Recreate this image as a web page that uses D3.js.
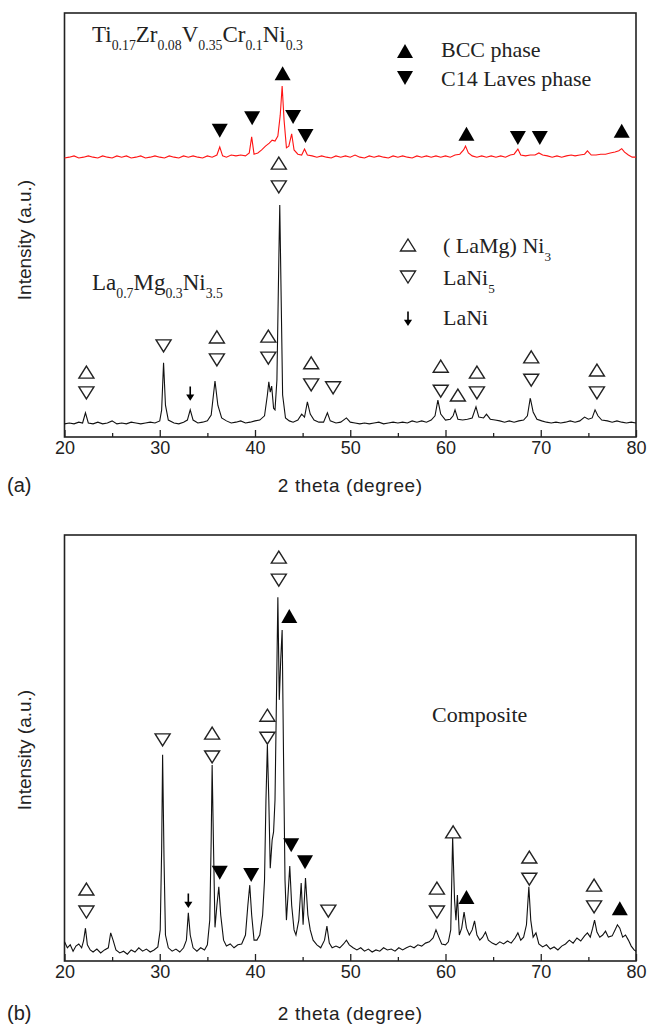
<!DOCTYPE html>
<html>
<head>
<meta charset="utf-8">
<script src="https://cdn.jsdelivr.net/npm/d3@7"></script>
<style>
  body { margin: 0; background: #fff; }
  .tick text { font-family: "Liberation Sans", Arial, sans-serif; font-size: 18px; fill: #222; }
  .serif { font-family: "Liberation Serif", "Times New Roman", serif; fill: #222; }
  .sans { font-family: "Liberation Sans", Arial, sans-serif; fill: #222; }
</style>
</head>
<body>
<svg id="chart"></svg>
<script>
// x ticks (2 theta)
var majorTicks = [20, 30, 40, 50, 60, 70, 80];
var minorTicks = [25, 35, 45, 55, 65, 75];

// panel (a): La0.7Mg0.3Ni3.5 pattern, [2theta, intensity a.u.]
var aAlloy = [
  [20.0,3.1],[20.5,3.3],[21.0,3.1],[21.5,3.5],[21.9,3.3],[22.2,5.7],[22.5,3.3],[23.0,3.1],[23.5,3.5],[24.0,3.1],
  [24.5,3.3],[25.0,3.8],[25.5,3.1],[26.0,3.3],[26.5,3.1],[27.0,3.5],[27.5,3.3],[28.0,3.1],[28.5,3.3],[29.0,3.5],
  [29.5,3.3],[30.0,3.8],[30.2,6.4],[30.4,17.5],[30.6,7.5],[30.9,4.0],[31.5,3.3],[32.0,3.1],[32.5,3.5],[32.9,4.0],
  [33.2,6.4],[33.5,4.0],[34.0,3.3],[34.5,3.5],[35.0,3.8],[35.4,5.2],[35.8,13.2],[36.1,7.5],[36.5,4.5],[37.0,3.8],
  [37.5,3.3],[38.0,3.5],[38.5,3.8],[39.0,3.3],[39.5,3.5],[40.0,3.8],[40.5,4.0],[41.0,5.0],[41.3,9.9],[41.45,13.0],
  [41.6,10.6],[41.75,12.0],[41.95,6.8],[42.1,6.4],[42.3,13.4],[42.5,41.7],[42.6,54.7],[42.75,32.3],[42.9,9.9],[43.2,4.5],
  [43.6,3.8],[44.0,3.5],[44.5,4.0],[44.9,5.4],[45.2,4.7],[45.5,8.3],[45.8,5.4],[46.2,4.0],[46.7,3.5],[47.2,3.5],
  [47.6,5.7],[47.9,3.8],[48.5,3.3],[49.0,3.5],[49.6,4.5],[50.0,3.5],[50.5,3.3],[51.0,3.1],[51.5,3.3],[52.0,3.1],
  [52.5,3.3],[53.0,3.5],[53.5,3.1],[54.0,3.3],[54.5,3.5],[55.0,3.3],[55.5,3.5],[56.0,3.3],[56.5,3.8],[57.0,3.5],
  [57.5,3.8],[58.0,3.5],[58.5,4.0],[58.9,5.0],[59.2,8.7],[59.5,5.4],[60.0,4.0],[60.5,4.2],[60.8,5.0],[61.0,6.4],
  [61.3,4.2],[61.8,4.0],[62.3,4.2],[62.8,4.5],[63.2,7.1],[63.5,4.7],[64.0,4.5],[64.3,5.4],[64.7,4.2],[65.2,4.0],
  [65.7,3.8],[66.2,3.5],[66.7,3.8],[67.2,3.5],[67.7,3.8],[68.2,4.0],[68.6,5.0],[68.9,9.2],[69.2,5.9],[69.6,4.2],
  [70.1,3.8],[70.6,3.5],[71.1,3.3],[71.6,3.5],[72.1,3.3],[72.6,3.5],[73.1,3.8],[73.6,3.5],[74.1,3.8],[74.6,4.7],
  [75.0,4.2],[75.4,4.5],[75.7,6.4],[76.0,5.0],[76.4,4.0],[77.0,3.8],[77.5,3.5],[78.0,3.8],[78.5,3.5],[79.0,3.3],
  [79.5,3.5],[80.0,3.3]
];

// panel (a): Ti0.17Zr0.08V0.35Cr0.1Ni0.3 pattern (offset)
var aBcc = [
  [20.0,65.8],[20.5,66.0],[21.0,66.3],[21.5,65.8],[22.0,66.0],[22.5,66.3],[23.0,66.0],[23.5,65.8],[24.0,66.3],[24.5,66.0],
  [25.0,65.8],[25.5,66.3],[26.0,66.0],[26.5,66.3],[27.0,65.8],[27.5,66.0],[28.0,66.3],[28.5,65.8],[29.0,66.0],[29.5,66.3],
  [30.0,66.0],[30.5,65.8],[31.0,66.3],[31.5,66.0],[32.0,65.8],[32.5,66.3],[33.0,66.0],[33.5,66.3],[34.0,66.0],[34.5,65.8],
  [35.0,66.3],[35.5,66.0],[36.0,66.5],[36.3,68.4],[36.6,66.3],[37.0,66.0],[37.5,66.5],[38.0,66.3],[38.5,66.5],[39.0,66.3],
  [39.4,67.0],[39.65,70.8],[39.9,66.7],[40.3,67.0],[40.7,67.7],[41.1,68.6],[41.5,69.3],[41.8,70.0],[42.1,69.8],[42.4,71.0],
  [42.65,75.9],[42.85,82.8],[43.05,74.8],[43.3,68.2],[43.55,68.6],[43.85,71.5],[44.1,67.7],[44.5,66.7],[44.9,66.5],[45.2,67.9],
  [45.5,66.5],[46.0,66.3],[46.5,66.0],[47.0,66.3],[47.5,66.0],[48.0,65.8],[48.5,66.3],[49.0,66.0],[49.5,66.3],[50.0,66.0],
  [50.5,66.5],[51.0,66.0],[51.5,65.8],[52.0,66.3],[52.5,66.0],[53.0,66.3],[53.5,66.0],[54.0,65.8],[54.5,66.3],[55.0,66.0],
  [55.5,66.3],[56.0,66.0],[56.5,65.8],[57.0,66.3],[57.5,66.0],[58.0,66.3],[58.5,66.0],[59.0,66.3],[59.5,66.0],[60.0,66.3],
  [60.5,66.0],[61.0,66.5],[61.5,66.7],[61.9,67.7],[62.1,68.6],[62.4,67.0],[62.8,66.3],[63.3,66.0],[63.8,66.3],[64.3,66.0],
  [64.8,66.3],[65.3,66.0],[65.8,66.3],[66.3,66.0],[66.8,66.5],[67.2,66.7],[67.6,67.9],[67.9,66.5],[68.4,66.3],[68.9,66.5],
  [69.4,66.5],[69.8,67.0],[70.2,66.5],[70.7,66.3],[71.2,66.0],[71.7,66.3],[72.2,66.0],[72.7,66.3],[73.2,66.5],[73.6,66.3],
  [74.1,66.5],[74.6,66.7],[74.9,67.5],[75.3,66.5],[75.8,66.5],[76.3,66.7],[76.8,66.7],[77.3,67.0],[77.8,67.2],[78.2,67.5],
  [78.5,68.0],[78.8,67.2],[79.2,66.5],[79.6,66.0],[80.0,66.0]
];

// panel (b): composite pattern
var bComposite = [
  [20.0,4.5],[20.3,3.1],[20.6,3.8],[20.9,2.3],[21.2,3.5],[21.5,4.0],[21.8,3.1],[22.0,4.7],[22.2,7.7],[22.4,3.8],
  [22.7,2.6],[23.0,2.1],[23.4,2.8],[23.8,1.9],[24.2,2.6],[24.6,3.1],[24.85,6.6],[25.1,4.9],[25.4,2.6],[25.8,1.9],
  [26.2,2.3],[26.6,1.6],[27.0,2.6],[27.4,2.1],[27.8,3.1],[28.2,2.3],[28.6,2.8],[29.0,2.1],[29.4,2.6],[29.8,3.3],
  [30.05,7.3],[30.2,26.1],[30.3,48.4],[30.45,23.7],[30.6,6.1],[30.9,3.1],[31.3,2.3],[31.7,2.8],[32.1,2.1],[32.5,3.1],
  [32.8,4.9],[33.0,11.3],[33.2,6.1],[33.5,3.1],[33.9,2.3],[34.3,3.1],[34.7,2.6],[35.0,3.8],[35.25,9.6],[35.4,28.4],
  [35.5,46.0],[35.65,26.1],[35.8,7.9],[36.0,13.1],[36.2,17.4],[36.4,10.8],[36.7,4.9],[37.0,3.5],[37.4,4.0],[37.8,3.1],
  [38.2,3.8],[38.6,4.0],[39.0,6.1],[39.25,13.1],[39.45,17.8],[39.65,10.8],[39.9,4.9],[40.2,4.9],[40.5,6.1],[40.8,10.8],
  [41.0,19.0],[41.15,37.8],[41.3,50.7],[41.45,37.8],[41.6,21.8],[41.8,28.4],[41.95,30.3],[42.1,37.8],[42.25,61.3],[42.4,85.4],
  [42.55,61.3],[42.7,70.7],[42.85,77.7],[43.0,47.2],[43.15,19.0],[43.3,9.6],[43.5,16.7],[43.65,22.3],[43.85,13.1],[44.1,7.3],
  [44.3,6.1],[44.6,9.6],[44.85,18.3],[45.05,8.5],[45.3,19.5],[45.55,10.8],[45.8,7.3],[46.1,4.9],[46.5,3.8],[46.9,3.1],
  [47.3,4.9],[47.55,8.2],[47.8,4.2],[48.1,3.1],[48.5,3.5],[48.9,3.1],[49.3,4.0],[49.6,4.9],[49.9,3.8],[50.3,3.1],
  [50.7,2.6],[51.1,3.1],[51.5,2.3],[51.9,2.8],[52.3,2.1],[52.7,2.6],[53.1,2.3],[53.5,3.1],[53.9,2.6],[54.3,2.8],
  [54.7,2.3],[55.1,3.1],[55.5,2.6],[55.9,3.1],[56.3,3.5],[56.7,3.1],[57.1,3.8],[57.5,3.5],[57.9,4.2],[58.3,4.5],
  [58.7,5.4],[59.0,7.3],[59.3,5.6],[59.6,4.0],[60.0,3.8],[60.3,4.5],[60.55,7.3],[60.75,29.1],[60.95,14.3],[61.1,9.6],
  [61.25,15.5],[61.45,6.1],[61.7,7.7],[61.95,11.5],[62.2,7.7],[62.5,6.1],[62.8,7.3],[63.05,9.4],[63.3,6.1],[63.6,4.9],
  [63.9,5.6],[64.2,6.8],[64.5,4.9],[64.9,4.2],[65.3,3.8],[65.7,4.5],[66.1,4.0],[66.5,4.7],[66.9,4.2],[67.3,5.4],
  [67.6,6.6],[67.9,4.9],[68.2,5.6],[68.5,8.5],[68.75,17.4],[68.95,9.6],[69.2,5.6],[69.5,6.6],[69.8,4.0],[70.2,3.3],
  [70.6,3.8],[71.0,2.8],[71.4,3.3],[71.8,2.6],[72.2,3.5],[72.6,4.0],[73.0,4.9],[73.4,4.2],[73.8,5.4],[74.2,4.7],
  [74.6,5.9],[74.9,6.6],[75.2,5.6],[75.45,7.7],[75.65,9.6],[75.9,6.8],[76.2,5.6],[76.5,6.1],[76.8,7.0],[77.1,5.6],
  [77.5,5.9],[77.8,7.3],[78.05,8.5],[78.3,7.7],[78.6,5.6],[78.9,6.1],[79.2,4.9],[79.5,3.5],[79.8,2.6],[80.0,2.3]
];

// phase markers [2theta, intensity]
var aBccMarks = [[42.9,85.8],[62.2,71.5],[78.5,72.2]];
var aC14Marks = [[36.3,72.2],[39.7,75.2],[44.0,75.5],[45.3,71.0],[67.6,70.5],[69.9,70.5]];
var aLaMgNi3Marks = [[22.3,15.3],[36.0,23.6],[41.4,23.8],[42.5,64.6],[45.9,17.5],[59.5,16.7],[61.3,9.9],[63.3,15.3],[69.0,18.9],[75.9,15.8]];
var aLaNi5Marks = [[22.3,10.4],[30.4,21.5],[36.0,18.2],[41.4,18.6],[42.5,59.0],[45.9,12.3],[48.2,11.6],[59.5,10.8],[63.3,10.4],[69.0,13.4],[75.9,10.4]];
var aLaNiMarks = [[33.2,10.4]];

var bBccMarks = [[43.6,81.0],[62.2,15.0],[78.3,12.4]];
var bC14Marks = [[36.3,20.7],[39.6,20.2],[43.8,27.2],[45.25,23.2]];
var bLaMgNi3Marks = [[22.3,16.9],[35.5,53.5],[41.3,57.7],[42.5,94.8],[59.1,17.1],[60.8,30.3],[68.8,24.4],[75.6,17.8]];
var bLaNi5Marks = [[22.3,11.5],[30.3,51.9],[35.5,47.9],[41.3,52.3],[42.5,89.4],[47.7,11.7],[59.1,11.5],[68.8,19.2],[75.6,12.7]];
var bLaNiMarks = [[33.0,14.3]];

var screen = { width: 649, height: 1024 };
var ink = "#222";

var svg = d3.select("#chart")
            .attr("width", screen.width)
            .attr("height", screen.height);

var xScale = d3.scaleLinear().domain([20, 80]).range([64.5, 636]);

// triangle path centred on 0,0
var tri = function(up, w, h) {
  if (up) return "M0," + (-h/2) + "L" + (w/2) + "," + (h/2) + "L" + (-w/2) + "," + (h/2) + "Z";
  return "M0," + (h/2) + "L" + (w/2) + "," + (-h/2) + "L" + (-w/2) + "," + (-h/2) + "Z";
}

var arrowPath = "M0,-6.5L0,4 M-2.6,2.5L0,6.5L2.6,2.5Z";

var styleMark = function(sel, kind) {
  if (kind == "bcc") sel.attr("d", tri(true, 16, 14)).attr("fill", "#000");
  if (kind == "c14") sel.attr("d", tri(false, 16, 14)).attr("fill", "#000");
  if (kind == "up") sel.attr("d", tri(true, 15, 12)).attr("fill", "#fff").attr("stroke", ink).attr("stroke-width", 1.4);
  if (kind == "down") sel.attr("d", tri(false, 15, 12)).attr("fill", "#fff").attr("stroke", ink).attr("stroke-width", 1.4);
  if (kind == "arrow") sel.attr("d", arrowPath).attr("fill", "#000").attr("stroke", "#000").attr("stroke-width", 1.6);
}

var drawMarks = function(g, data, yScale, kind) {
  var sel = g.selectAll(null).data(data).enter().append("path")
             .attr("transform", function(d) {return "translate(" + xScale(d[0]) + "," + yScale(d[1]) + ")";});
  styleMark(sel, kind);
}

var drawPanel = function(top, bottom, label, labelY, yLabelY) {
  var yScale = d3.scaleLinear().domain([0, 100]).range([bottom, top]);
  var g = svg.append("g");

  //minor ticks
  g.append("g")
   .attr("transform", "translate(0," + bottom + ")")
   .call(d3.axisBottom(xScale).tickValues(minorTicks).tickSizeInner(-4).tickSizeOuter(0).tickFormat(""))
   .call(function(a) {a.select(".domain").remove(); a.selectAll("line").attr("stroke", ink).attr("stroke-width", 1.3);});

  //major ticks
  g.append("g")
   .attr("transform", "translate(0," + bottom + ")")
   .call(d3.axisBottom(xScale).tickValues(majorTicks).tickSizeInner(-7).tickSizeOuter(0).tickPadding(4))
   .call(function(a) {a.select(".domain").remove(); a.selectAll("line").attr("stroke", ink).attr("stroke-width", 1.3);});

  //frame
  g.append("rect")
   .attr("x", xScale(20)).attr("y", top)
   .attr("width", xScale(80) - xScale(20)).attr("height", bottom - top)
   .attr("fill", "none").attr("stroke", ink).attr("stroke-width", 1.6);

  g.append("text").attr("class", "sans")
   .attr("x", (xScale(20) + xScale(80)) / 2).attr("y", labelY)
   .attr("text-anchor", "middle").style("font-size", "19px").style("letter-spacing", "0.6px")
   .text("2 theta (degree)");

  g.append("text").attr("class", "sans")
   .attr("x", 7).attr("y", labelY)
   .style("font-size", "20px")
   .text(label);

  g.append("text").attr("class", "sans")
   .attr("transform", "translate(31," + yLabelY + ") rotate(-90)")
   .attr("text-anchor", "middle").style("font-size", "19px")
   .text("Intensity (a.u.)");

  return {g: g, y: yScale};
}

var line = function(yScale) {
  return d3.line().x(function(d) {return xScale(d[0]);}).y(function(d) {return yScale(d[1]);});
}

// serif label with subscripts: parts = [[text, sub], ...]
var formula = function(x, y, parts, size) {
  var t = svg.append("text").attr("class", "serif").attr("x", x).attr("y", y).style("font-size", size + "px");
  var lowered = false;
  parts.forEach(function(p) {
    t.append("tspan").text(p[0]).attr("dy", lowered ? -8 : 0);
    lowered = false;
    if (p[1]) {
      t.append("tspan").text(p[1]).style("font-size", (size * 0.6) + "px").attr("dy", 8);
      lowered = true;
    }
  });
  return t;
}

//panel (a)
var pa = drawPanel(13, 437, "(a)", 492, 240);
pa.g.append("path").datum(aAlloy).attr("d", line(pa.y)).attr("fill", "none").attr("stroke", "#111").attr("stroke-width", 1.1);
pa.g.append("path").datum(aBcc).attr("d", line(pa.y)).attr("fill", "none").attr("stroke", "#ff1414").attr("stroke-width", 1.1);
drawMarks(pa.g, aBccMarks, pa.y, "bcc");
drawMarks(pa.g, aC14Marks, pa.y, "c14");
drawMarks(pa.g, aLaMgNi3Marks, pa.y, "up");
drawMarks(pa.g, aLaNi5Marks, pa.y, "down");
drawMarks(pa.g, aLaNiMarks, pa.y, "arrow");

//panel (b)
var pb = drawPanel(535, 961, "(b)", 1020, 750);
pb.g.append("path").datum(bComposite).attr("d", line(pb.y)).attr("fill", "none").attr("stroke", "#111").attr("stroke-width", 1.1);
drawMarks(pb.g, bBccMarks, pb.y, "bcc");
drawMarks(pb.g, bC14Marks, pb.y, "c14");
drawMarks(pb.g, bLaMgNi3Marks, pb.y, "up");
drawMarks(pb.g, bLaNi5Marks, pb.y, "down");
drawMarks(pb.g, bLaNiMarks, pb.y, "arrow");

//labels
formula(92, 42, [["Ti","0.17"],["Zr","0.08"],["V","0.35"],["Cr","0.1"],["Ni","0.3"]], 23);
formula(92, 290, [["La","0.7"],["Mg","0.3"],["Ni","3.5"]], 23);
svg.append("text").attr("class", "serif").attr("x", 432).attr("y", 722).style("font-size", "22px").text("Composite");

//legends
var legA = [
  {kind: "bcc", y: 51, parts: [["BCC phase"]], ty: 57},
  {kind: "c14", y: 78, parts: [["C14 Laves phase"]], ty: 86}
];
legA.forEach(function(d) {
  styleMark(svg.append("path").attr("transform", "translate(405," + d.y + ")"), d.kind);
  formula(441, d.ty, d.parts, 22);
});

var legB = [
  {kind: "up", y: 245, parts: [["( LaMg) Ni","3"]], ty: 253},
  {kind: "down", y: 277, parts: [["LaNi","5"]], ty: 285},
  {kind: "arrow", y: 318, parts: [["LaNi"]], ty: 325}
];
legB.forEach(function(d) {
  styleMark(svg.append("path").attr("transform", "translate(408," + d.y + ")"), d.kind);
  formula(443, d.ty, d.parts, 22);
});
</script>
</body>
</html>
